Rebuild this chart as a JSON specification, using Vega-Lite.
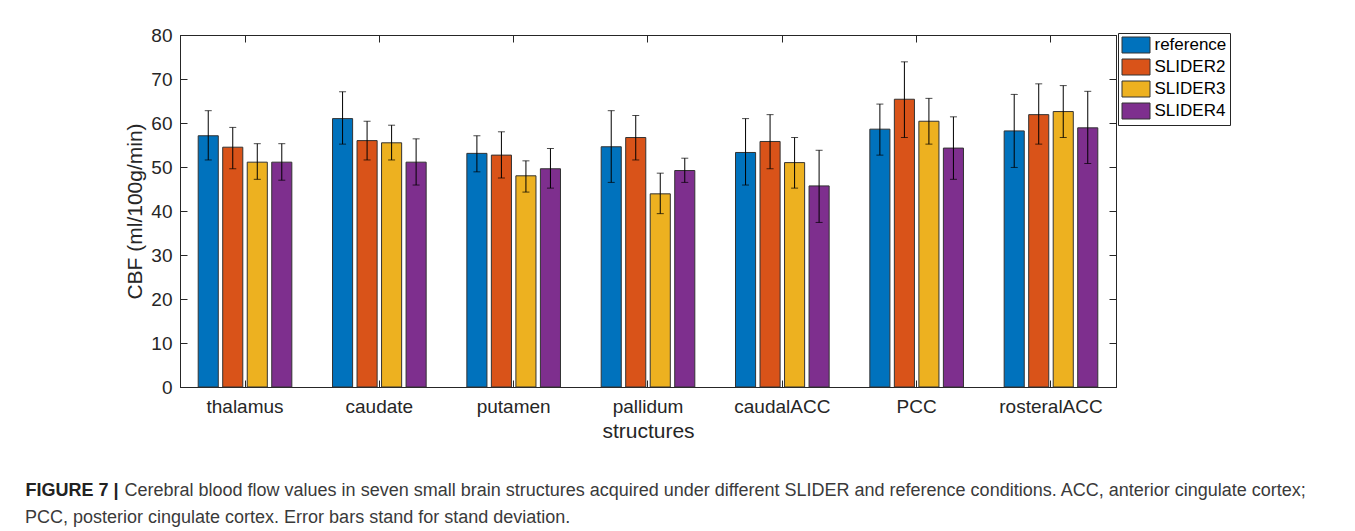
{
  "$schema": "https://vega.github.io/schema/vega-lite/v6.json",
  "width": 936,
  "height": 352,
  "autosize": {"type": "none"},
  "padding": {"left": 180, "top": 35, "right": 239, "bottom": 144},
  "background": "white",
  "title": {
    "text": "PCC, posterior cingulate cortex. Error bars stand for stand deviation.",
    "orient": "bottom",
    "anchor": "start",
    "frame": "group",
    "dx": -155,
    "dy": 10,
    "offset": 0,
    "font": "Liberation Sans",
    "fontSize": 18,
    "fontWeight": "normal",
    "color": "#3a3a3a"
  },
  "data": {
    "values": [
      {"structure": "thalamus", "condition": "reference", "mean": 57.1, "lo": 51.6, "hi": 62.8},
      {"structure": "thalamus", "condition": "SLIDER2", "mean": 54.5, "lo": 49.6, "hi": 59.0},
      {"structure": "thalamus", "condition": "SLIDER3", "mean": 51.1, "lo": 47.2, "hi": 55.3},
      {"structure": "thalamus", "condition": "SLIDER4", "mean": 51.1, "lo": 47.0, "hi": 55.3},
      {"structure": "caudate", "condition": "reference", "mean": 61.0, "lo": 55.2, "hi": 67.1},
      {"structure": "caudate", "condition": "SLIDER2", "mean": 56.0, "lo": 51.6, "hi": 60.4},
      {"structure": "caudate", "condition": "SLIDER3", "mean": 55.5, "lo": 51.6, "hi": 59.5},
      {"structure": "caudate", "condition": "SLIDER4", "mean": 51.1, "lo": 45.9, "hi": 56.4},
      {"structure": "putamen", "condition": "reference", "mean": 53.1, "lo": 48.9, "hi": 57.1},
      {"structure": "putamen", "condition": "SLIDER2", "mean": 52.7, "lo": 47.5, "hi": 58.0},
      {"structure": "putamen", "condition": "SLIDER3", "mean": 48.0, "lo": 44.3, "hi": 51.4},
      {"structure": "putamen", "condition": "SLIDER4", "mean": 49.6, "lo": 45.2, "hi": 54.2},
      {"structure": "pallidum", "condition": "reference", "mean": 54.6, "lo": 46.5, "hi": 62.8},
      {"structure": "pallidum", "condition": "SLIDER2", "mean": 56.7, "lo": 51.6, "hi": 61.7},
      {"structure": "pallidum", "condition": "SLIDER3", "mean": 43.9, "lo": 39.4, "hi": 48.6},
      {"structure": "pallidum", "condition": "SLIDER4", "mean": 49.2, "lo": 46.5, "hi": 52.0},
      {"structure": "caudalACC", "condition": "reference", "mean": 53.3, "lo": 45.9, "hi": 61.0},
      {"structure": "caudalACC", "condition": "SLIDER2", "mean": 55.8, "lo": 49.6, "hi": 61.9},
      {"structure": "caudalACC", "condition": "SLIDER3", "mean": 51.0, "lo": 45.2, "hi": 56.7},
      {"structure": "caudalACC", "condition": "SLIDER4", "mean": 45.7, "lo": 37.4, "hi": 53.8},
      {"structure": "PCC", "condition": "reference", "mean": 58.6, "lo": 52.7, "hi": 64.3},
      {"structure": "PCC", "condition": "SLIDER2", "mean": 65.4, "lo": 56.7, "hi": 73.9},
      {"structure": "PCC", "condition": "SLIDER3", "mean": 60.4, "lo": 55.2, "hi": 65.6},
      {"structure": "PCC", "condition": "SLIDER4", "mean": 54.3, "lo": 47.2, "hi": 61.4},
      {"structure": "rosteralACC", "condition": "reference", "mean": 58.2, "lo": 49.9, "hi": 66.5},
      {"structure": "rosteralACC", "condition": "SLIDER2", "mean": 61.9, "lo": 55.2, "hi": 68.9},
      {"structure": "rosteralACC", "condition": "SLIDER3", "mean": 62.6, "lo": 56.7, "hi": 68.5},
      {"structure": "rosteralACC", "condition": "SLIDER4", "mean": 58.9, "lo": 50.8, "hi": 67.2}
    ]
  },
  "encoding": {
    "x": {
      "field": "structure",
      "type": "nominal",
      "sort": ["thalamus", "caudate", "putamen", "pallidum", "caudalACC", "PCC", "rosteralACC"],
      "scale": {"paddingInner": 0.27, "paddingOuter": 0.119}
    },
    "xOffset": {
      "field": "condition",
      "type": "nominal",
      "sort": ["reference", "SLIDER2", "SLIDER3", "SLIDER4"],
      "scale": {"paddingInner": 0.18, "paddingOuter": 0.09}
    }
  },
  "layer": [
    {
      "mark": {"type": "bar", "stroke": "#333333", "strokeWidth": 1, "opacity": 1},
      "encoding": {
        "x": {
          "field": "structure",
          "type": "nominal",
          "sort": ["thalamus", "caudate", "putamen", "pallidum", "caudalACC", "PCC", "rosteralACC"],
          "axis": {
            "orient": "bottom",
            "title": "structures",
            "labelAngle": 0,
            "tickSize": -7,
            "labelPadding": 17,
            "titlePadding": 4
          }
        },
        "y": {
          "field": "mean",
          "type": "quantitative",
          "scale": {"domain": [0, 80], "nice": false, "zero": true},
          "axis": {
            "orient": "left",
            "title": "CBF (ml/100g/min)",
            "values": [0, 10, 20, 30, 40, 50, 60, 70, 80],
            "tickSize": -7,
            "labelPadding": 15,
            "titlePadding": 5
          }
        },
        "color": {
          "field": "condition",
          "type": "nominal",
          "sort": ["reference", "SLIDER2", "SLIDER3", "SLIDER4"],
          "scale": {
            "domain": ["reference", "SLIDER2", "SLIDER3", "SLIDER4"],
            "range": ["#0072BD", "#D95319", "#EDB120", "#7E2F8E"]
          },
          "legend": {
            "orient": "none",
            "legendX": 938,
            "legendY": -2,
            "title": null,
            "symbolType": "M-1,-1H2.5V1H-1Z",
            "symbolSize": 256,
            "symbolStrokeColor": "#333333",
            "symbolStrokeWidth": 1,
            "symbolOpacity": 1,
            "labelFont": "Liberation Sans",
            "labelFontSize": 17,
            "labelColor": "#000000",
            "labelOffset": 16,
            "padding": 3.5,
            "rowPadding": 1,
            "strokeColor": "#262626",
            "fillColor": "white"
          }
        }
      }
    },
    {
      "mark": {"type": "rule", "color": "#000000", "strokeWidth": 1},
      "encoding": {
        "y": {"field": "lo", "type": "quantitative", "axis": null},
        "y2": {"field": "hi"},
        "x": {"field": "structure", "type": "nominal", "sort": ["thalamus", "caudate", "putamen", "pallidum", "caudalACC", "PCC", "rosteralACC"], "axis": null}
      }
    },
    {
      "mark": {"type": "tick", "color": "#000000", "thickness": 1, "size": 7, "orient": "horizontal"},
      "encoding": {
        "y": {"field": "hi", "type": "quantitative", "axis": null},
        "x": {"field": "structure", "type": "nominal", "sort": ["thalamus", "caudate", "putamen", "pallidum", "caudalACC", "PCC", "rosteralACC"], "axis": null}
      }
    },
    {
      "mark": {"type": "tick", "color": "#000000", "thickness": 1, "size": 7, "orient": "horizontal"},
      "encoding": {
        "y": {
          "field": "lo",
          "type": "quantitative",
          "axis": {
            "orient": "right",
            "labels": false,
            "values": [0, 10, 20, 30, 40, 50, 60, 70, 80],
            "tickSize": -7,
            "title": "FIGURE 7 |",
            "titleAngle": 0,
            "titleX": -1091,
            "titleY": 460,
            "titleAlign": "left",
            "titleBaseline": "alphabetic",
            "titleFontSize": 18,
            "titleFontWeight": "bold",
            "titleColor": "#222222"
          }
        },
        "x": {
          "field": "structure",
          "type": "nominal",
          "sort": ["thalamus", "caudate", "putamen", "pallidum", "caudalACC", "PCC", "rosteralACC"],
          "axis": {
            "orient": "top",
            "labels": false,
            "tickSize": -7,
            "title": "Cerebral blood flow values in seven small brain structures acquired under different SLIDER and reference conditions. ACC, anterior cingulate cortex;",
            "titleX": -56,
            "titleY": 460,
            "titleAlign": "left",
            "titleAnchor": "start",
            "titleBaseline": "alphabetic",
            "titleFontSize": 18,
            "titleFontWeight": "normal",
            "titleColor": "#3a3a3a",
            "titleLimit": 3000
          }
        }
      }
    }
  ],
  "resolve": {"axis": {"x": "independent", "y": "independent"}},
  "config": {
    "font": "Liberation Sans",
    "view": {"stroke": "#262626", "strokeWidth": 1},
    "axis": {
      "grid": false,
      "domainColor": "#262626",
      "tickColor": "#262626",
      "labelColor": "#262626",
      "titleColor": "#262626",
      "labelFont": "Liberation Sans",
      "titleFont": "Liberation Sans",
      "labelFontSize": 19,
      "titleFontSize": 21,
      "titleFontWeight": "normal"
    }
  }
}
